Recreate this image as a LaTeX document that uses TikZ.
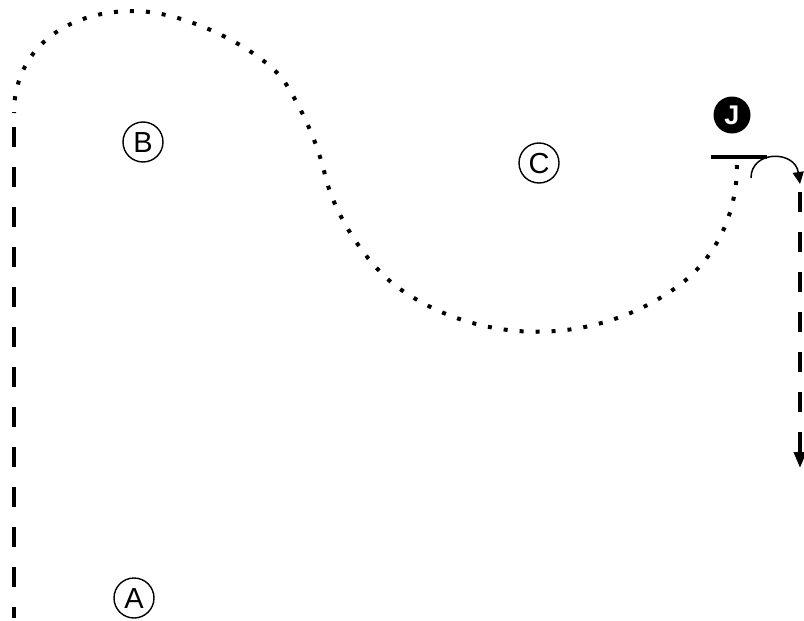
\documentclass[tikz,border=0pt]{standalone}
\usepackage{fontspec}
\setmainfont{Liberation Sans}
\usetikzlibrary{arrows.meta}
\begin{document}
\begin{tikzpicture}[x=1pt,y=-1pt,
  letter/.style={circle,draw,line width=1.4pt,minimum size=40pt,inner sep=0pt,
    text height=21pt,text depth=0pt,font=\fontsize{29}{29}\selectfont},
  jcirc/.style={circle,fill=black,minimum size=37pt,inner sep=0pt,text=white,
    text height=19pt,text depth=0pt,font=\bfseries\fontsize{27}{27}\selectfont},
  dotline/.style={line width=4pt,dash pattern=on 4pt off 12pt},
  dashline/.style={line width=3.6pt,dash pattern=on 20pt off 20pt},
  thinarrow/.style={line width=1.5pt,-{Triangle[length=12pt,width=11pt]}},
  bar/.style={line width=3.5pt}]
\useasboundingbox (0,0) rectangle (804,621);
% labels
\node[letter] (B) at (143,142) {B};
\node[letter] (C) at (539,163) {C};
\node[letter] (A) at (134,598) {A};
\node[jcirc] (J) at (732,115) {J};
% coordinates
\coordinate (L1) at (14,127);
\coordinate (L2) at (14,618);
\coordinate (S) at (14,113);
\coordinate (E) at (737,165);
\coordinate (bar1) at (711,157);
\coordinate (bar2) at (767,157);
\coordinate (a1) at (751,178);
\coordinate (a2) at (800,184);
\coordinate (R1) at (800,192);
\coordinate (R2) at (800,468);
% left dashed line
\draw[dashline] (L1) -- (L2);
% dotted curve (drawn from the bar end towards the left line)
\draw[dotline] (E) .. controls (737,215) and (715,261) .. (674,289)
  .. controls (592,346) and (482,346) .. (400,289)
  .. controls (367,266) and (334,214) .. (325,175)
  .. controls (318,145) and (304,113) .. (286,84)
  .. controls (268,54) and (189,11) .. (134,11)
  .. controls (62,11) and (14,52) .. (S);
% bar
\draw[bar] (bar1) -- (bar2);
% small arc arrow
\draw[thinarrow] (a1) .. controls (751,150) and (795,150) .. (a2);
% right dashed arrow
\draw[dashline,-{Triangle[length=16pt,width=12pt]}] (R1) -- (R2);
\end{tikzpicture}
\end{document}
